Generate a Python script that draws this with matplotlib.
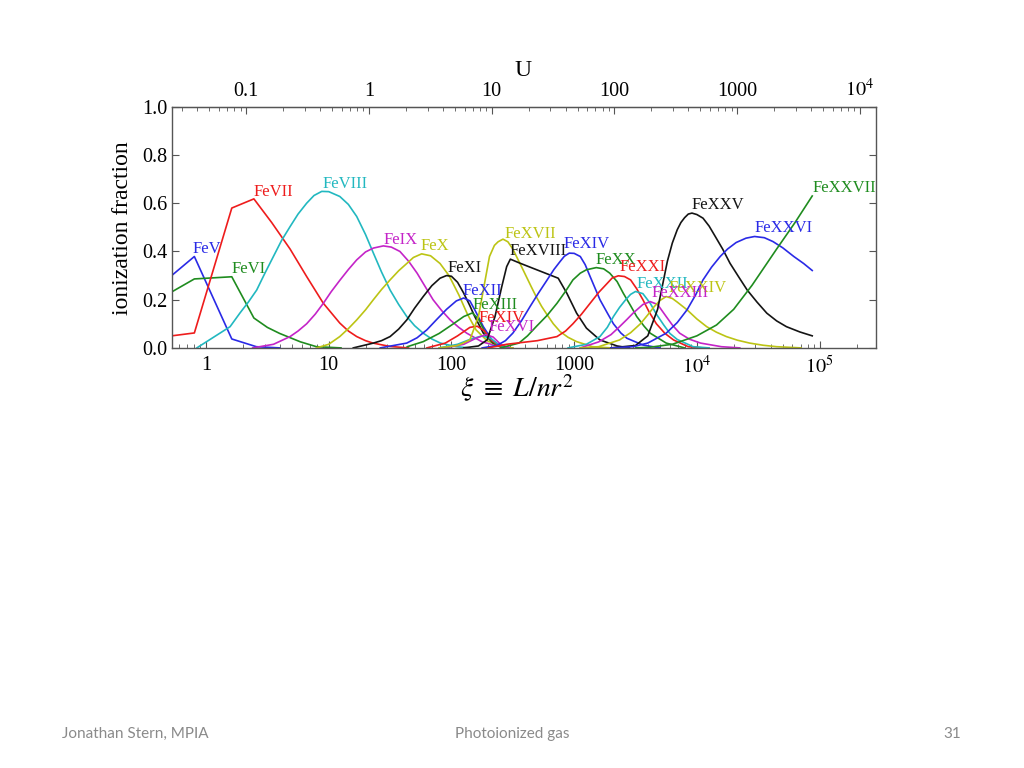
import numpy as np
import matplotlib.pyplot as plt
from matplotlib.ticker import FixedLocator, FuncFormatter, LogLocator, NullFormatter

plt.rcParams['font.family'] = ['Liberation Serif', 'DejaVu Serif']
plt.rcParams['mathtext.fontset'] = 'stix'

# ion curves: log10(xi) and ionization fraction
fe5_x = [-0.28, -0.095, 0.21, 0.41, 0.6]
fe5_y = [0.30, 0.379, 0.037, 0.005, 0.0]
fe6_x = [-0.28, -0.095, 0.21, 0.39, 0.5, 0.6, 0.77, 0.9, 1.1]
fe6_y = [0.232, 0.286, 0.295, 0.124, 0.085, 0.06, 0.025, 0.005, 0.0]
fe7_x = [-0.28, -0.095, 0.21, 0.39, 0.535, 0.685, 0.82, 0.956, 1.09, 1.16, 1.228, 1.3, 1.36,
         1.5, 1.65]
fe7_y = [0.05, 0.062, 0.58, 0.618, 0.52, 0.41, 0.296, 0.185, 0.103, 0.07, 0.047, 0.03, 0.02,
         0.006, 0.0]
fe8_x = [-0.075, 0.196, 0.277, 0.345, 0.413, 0.48, 0.549, 0.615, 0.685, 0.75, 0.82, 0.88, 0.943,
         1.0, 1.09, 1.16, 1.228, 1.3, 1.364, 1.43, 1.5, 1.57, 1.636, 1.7, 1.77, 1.84, 1.91, 2.04, 2.15]
fe8_y = [0.0, 0.088, 0.145, 0.19, 0.24, 0.31, 0.379, 0.445, 0.503, 0.555, 0.60, 0.632, 0.649,
         0.648, 0.628, 0.595, 0.545, 0.47, 0.393, 0.315, 0.24, 0.18, 0.13, 0.092, 0.061, 0.037,
         0.02, 0.005, 0.0]
fe9_x = [0.38, 0.55, 0.685, 0.75, 0.82, 0.89, 0.956, 1.02, 1.09, 1.16, 1.228, 1.30, 1.364, 1.445,
         1.51, 1.58, 1.65, 1.72, 1.785, 1.85, 1.92, 1.99, 2.06, 2.125, 2.25, 2.4, 2.5]
fe9_y = [0.0, 0.015, 0.047, 0.07, 0.10, 0.14, 0.185, 0.233, 0.28, 0.325, 0.365, 0.398, 0.414,
         0.423, 0.418, 0.40, 0.36, 0.31, 0.255, 0.20, 0.155, 0.116, 0.085, 0.061, 0.025, 0.005, 0.0]
fe10_x = [0.9, 1.0, 1.09, 1.16, 1.228, 1.3, 1.364, 1.43, 1.5, 1.57, 1.636, 1.69, 1.757, 1.83,
          1.907, 1.98, 2.06, 2.13, 2.2, 2.29, 2.4, 2.5]
fe10_y = [0.0, 0.015, 0.047, 0.08, 0.116, 0.158, 0.2, 0.242, 0.282, 0.32, 0.35, 0.375, 0.39,
          0.382, 0.35, 0.30, 0.22, 0.14, 0.075, 0.03, 0.005, 0.0]
fe11_x = [1.2, 1.364, 1.43, 1.5, 1.57, 1.636, 1.70, 1.77, 1.84, 1.907, 1.96, 2.0, 2.05, 2.1,
          2.15, 2.19, 2.26, 2.34, 2.45]
fe11_y = [0.0, 0.02, 0.03, 0.047, 0.078, 0.116, 0.165, 0.213, 0.258, 0.289, 0.30, 0.297, 0.272,
          0.227, 0.175, 0.13, 0.061, 0.02, 0.0]
fe12_x = [1.42, 1.636, 1.72, 1.8, 1.88, 1.96, 2.04, 2.1, 2.15, 2.19, 2.26, 2.33, 2.42]
fe12_y = [0.0, 0.02, 0.042, 0.075, 0.118, 0.16, 0.195, 0.207, 0.195, 0.158, 0.088, 0.033, 0.0]
fe13_x = [1.64, 1.77, 1.9, 2.016, 2.1, 2.17, 2.22, 2.29, 2.37, 2.45]
fe13_y = [0.005, 0.026, 0.06, 0.10, 0.13, 0.145, 0.12, 0.047, 0.01, 0.0]
fe14_x = [1.8, 1.95, 2.05, 2.15, 2.21, 2.27, 2.33, 2.4]
fe14_y = [0.0, 0.02, 0.05, 0.085, 0.09, 0.07, 0.03, 0.005]
fe15_x = [1.9, 2.05, 2.15, 2.25, 2.32, 2.38, 2.45]
fe15_y = [0.0, 0.015, 0.035, 0.05, 0.04, 0.015, 0.0]
fe16_x = [1.95, 2.1, 2.2, 2.28, 2.34, 2.4, 2.47]
fe16_y = [0.0, 0.015, 0.04, 0.055, 0.045, 0.015, 0.0]
fe17_x = [1.9, 2.05, 2.15, 2.22, 2.27, 2.31, 2.35, 2.38, 2.42, 2.46, 2.5, 2.53, 2.57, 2.61, 2.65,
          2.69, 2.735, 2.78, 2.83, 2.885, 2.95, 3.02, 3.15, 3.3]
fe17_y = [0.0, 0.01, 0.033, 0.13, 0.268, 0.379, 0.425, 0.44, 0.451, 0.44, 0.41, 0.379, 0.338,
          0.296, 0.254, 0.213, 0.172, 0.137, 0.1, 0.068, 0.044, 0.026, 0.005, 0.0]
fe18_x = [2.1, 2.22, 2.29, 2.355, 2.41, 2.45, 2.48, 2.56, 2.695, 2.87, 2.94, 3.02, 3.10, 3.21,
          3.35, 3.45]
fe18_y = [0.0, 0.008, 0.033, 0.13, 0.254, 0.337, 0.368, 0.351, 0.324, 0.289, 0.227, 0.144,
          0.082, 0.033, 0.008, 0.0]
fe19_x = [2.25, 2.37, 2.44, 2.5, 2.57, 2.64, 2.71, 2.78, 2.835, 2.885, 2.92, 2.96, 3.0, 3.05,
          3.09, 3.13, 3.17, 3.21, 3.27, 3.32, 3.38, 3.43, 3.56, 3.7]
fe19_y = [0.0, 0.01, 0.03, 0.061, 0.112, 0.171, 0.228, 0.282, 0.325, 0.358, 0.38, 0.393, 0.392,
          0.379, 0.345, 0.296, 0.248, 0.2, 0.145, 0.10, 0.062, 0.04, 0.012, 0.0]
fe20_x = [2.4, 2.55, 2.62, 2.69, 2.78, 2.86, 2.93, 2.99, 3.05, 3.1, 3.18, 3.24, 3.29, 3.35,
          3.40, 3.46, 3.51, 3.57, 3.62, 3.75, 3.9]
fe20_y = [0.0, 0.02, 0.05, 0.088, 0.135, 0.185, 0.235, 0.282, 0.31, 0.324, 0.333, 0.328, 0.31,
          0.275, 0.227, 0.175, 0.13, 0.09, 0.061, 0.02, 0.0]
fe21_x = [2.3, 2.45, 2.7, 2.86, 2.93, 2.99, 3.06, 3.13, 3.2, 3.27, 3.31, 3.36, 3.41, 3.46,
          3.51, 3.56, 3.61, 3.67, 3.74, 3.81, 3.93, 4.05]
fe21_y = [0.0, 0.015, 0.03, 0.047, 0.07, 0.10, 0.14, 0.185, 0.23, 0.268, 0.29, 0.299, 0.296,
          0.282, 0.245, 0.2, 0.15, 0.10, 0.06, 0.033, 0.005, 0.0]
fe22_x = [2.95, 3.1, 3.21, 3.27, 3.32, 3.37, 3.42, 3.46, 3.5, 3.56, 3.62, 3.67, 3.73, 3.78,
          3.84, 3.97, 4.1]
fe22_y = [0.0, 0.015, 0.047, 0.085, 0.13, 0.168, 0.2, 0.222, 0.234, 0.225, 0.185, 0.14, 0.095,
          0.06, 0.035, 0.005, 0.0]
fe23_x = [3.05, 3.2, 3.3, 3.37, 3.43, 3.48, 3.56, 3.62, 3.68, 3.75, 3.8, 3.86, 3.94, 4.03, 4.2, 4.35]
fe23_y = [0.0, 0.025, 0.055, 0.088, 0.118, 0.144, 0.18, 0.192, 0.18, 0.13, 0.095, 0.061, 0.036,
          0.02, 0.005, 0.0]
fe24_x = [3.05, 3.2, 3.37, 3.46, 3.54, 3.6, 3.65, 3.7, 3.75, 3.8, 3.84, 3.92, 4.0, 4.08, 4.16,
          4.24, 4.33, 4.43, 4.54, 4.65, 4.85]
fe24_y = [0.0, 0.005, 0.033, 0.063, 0.10, 0.137, 0.17, 0.197, 0.213, 0.205, 0.19, 0.158, 0.12,
          0.088, 0.065, 0.047, 0.032, 0.02, 0.011, 0.005, 0.0]
fe25_x = [3.3, 3.5, 3.6, 3.68, 3.72, 3.76, 3.8, 3.84, 3.87, 3.9, 3.93, 3.96, 4.0, 4.05, 4.10,
          4.15, 4.21, 4.27, 4.34, 4.41, 4.49, 4.57, 4.65, 4.73, 4.84, 4.94]
fe25_y = [0.0, 0.01, 0.05, 0.16, 0.26, 0.36, 0.435, 0.49, 0.52, 0.54, 0.555, 0.559, 0.553,
          0.538, 0.505, 0.462, 0.41, 0.351, 0.295, 0.24, 0.19, 0.144, 0.112, 0.088, 0.066, 0.05]
fe26_x = [3.3, 3.48, 3.6, 3.75, 3.84, 3.92, 3.99, 4.05, 4.12, 4.19, 4.25, 4.32, 4.40, 4.47,
          4.55, 4.62, 4.70, 4.79, 4.87, 4.94]
fe26_y = [0.0, 0.005, 0.02, 0.061, 0.105, 0.158, 0.22, 0.282, 0.335, 0.379, 0.41, 0.437, 0.455,
          0.462, 0.457, 0.441, 0.415, 0.379, 0.35, 0.321]
fe27_x = [3.5, 3.62, 3.8, 4.0, 4.16, 4.3, 4.45, 4.65, 4.8, 4.94]
fe27_y = [0.0, 0.003, 0.015, 0.05, 0.095, 0.16, 0.26, 0.41, 0.52, 0.63]

curves = [(fe5_x, fe5_y), (fe6_x, fe6_y), (fe7_x, fe7_y), (fe8_x, fe8_y), (fe9_x, fe9_y),
          (fe10_x, fe10_y), (fe11_x, fe11_y), (fe12_x, fe12_y), (fe13_x, fe13_y),
          (fe14_x, fe14_y), (fe15_x, fe15_y), (fe16_x, fe16_y), (fe17_x, fe17_y),
          (fe18_x, fe18_y), (fe19_x, fe19_y), (fe20_x, fe20_y), (fe21_x, fe21_y),
          (fe22_x, fe22_y), (fe23_x, fe23_y), (fe24_x, fe24_y), (fe25_x, fe25_y),
          (fe26_x, fe26_y), (fe27_x, fe27_y)]

# colour cycle of the original plot
cycle = ['#2a2ae6', '#1f8c1f', '#ee1c1c', '#22b8c0', '#c424c8', '#bcc414', '#141414']

# ion labels: text, log10(xi), fraction (lower-left corner of the text), colour index
labels = [('FeV', -0.11, 0.378, 0), ('FeVI', 0.21, 0.295, 1), ('FeVII', 0.39, 0.614, 2),
          ('FeVIII', 0.953, 0.647, 3), ('FeIX', 1.443, 0.415, 4), ('FeX', 1.744, 0.39, 5),
          ('FeXI', 1.97, 0.299, 6), ('FeXII', 2.09, 0.203, 7), ('FeXIII', 2.17, 0.145, 8),
          ('FeXIV', 2.22, 0.091, 9), ('FeXVI', 2.30, 0.054, 11), ('FeXVII', 2.43, 0.44, 12),
          ('FeXVIII', 2.47, 0.369, 13), ('FeXIV', 2.91, 0.398, 14), ('FeXX', 3.17, 0.332, 15),
          ('FeXXI', 3.37, 0.303, 16), ('FeXXII', 3.51, 0.232, 17), ('FeXXIV', 3.77, 0.216, 19),
          ('FeXXIII', 3.63, 0.195, 18), ('FeXXV', 3.96, 0.56, 20), ('FeXXVI', 4.47, 0.465, 21),
          ('FeXXVII', 4.94, 0.63, 22)]

xi_ticks = [1, 10, 100, 1000, 1e4, 1e5]
u_ticks = [0.1, 1, 10, 100, 1000, 1e4]
y_ticks = [0.0, 0.2, 0.4, 0.6, 0.8, 1.0]
xi_per_u = 21.3


def fmt(v, pos):
    if v >= 1e4:
        return r'$10^{%d}$' % round(np.log10(v))
    if v < 1:
        return '%g' % v
    return '%d' % round(v)


fig = plt.figure(figsize=(10.24, 7.68), dpi=100)
ax = fig.add_axes([0.168, 0.547, 0.6875, 0.314])

for i, (lx, fy) in enumerate(curves):
    ax.plot(10 ** np.array(lx), fy, color=cycle[i % 7], lw=1.2)

for txt, lx, fy, ci in labels:
    ax.text(10 ** lx, fy, txt, color=cycle[ci % 7], fontsize=12, ha='left', va='bottom')

ax.set_xscale('log')
ax.set_xlim(10 ** -0.277, 10 ** 5.46)
ax.set_ylim(0, 1)
ax.xaxis.set_major_locator(FixedLocator(xi_ticks))
ax.xaxis.set_major_formatter(FuncFormatter(fmt))
ax.xaxis.set_minor_locator(LogLocator(base=10, subs=range(2, 10), numticks=20))
ax.xaxis.set_minor_formatter(NullFormatter())
ax.set_yticks(y_ticks)
ax.yaxis.set_major_formatter(FuncFormatter(lambda v, p: '%.1f' % v))
ax.tick_params(which='both', direction='in', labelsize=14.5, colors='#555555',
               labelcolor='black', right=True, top=False)
ax.tick_params(which='major', length=5)
ax.tick_params(which='minor', length=3)
ax.tick_params(axis='x', pad=6)
for s in ax.spines.values():
    s.set_color('#555555')
    s.set_linewidth(1.0)

sec = ax.secondary_xaxis('top', functions=(lambda x: x / xi_per_u, lambda u: u * xi_per_u))
sec.set_xscale('log')
sec.xaxis.set_major_locator(FixedLocator(u_ticks))
sec.xaxis.set_major_formatter(FuncFormatter(fmt))
sec.xaxis.set_minor_locator(LogLocator(base=10, subs=range(2, 10), numticks=20))
sec.xaxis.set_minor_formatter(NullFormatter())
sec.tick_params(which='both', direction='in', labelsize=14.5, colors='#555555', labelcolor='black')
sec.tick_params(which='major', length=5, pad=4)
sec.tick_params(which='minor', length=3)
sec.spines['top'].set_color('#555555')

fig.text(523 / 1024, 1 - 70 / 768, 'U', fontsize=17, ha='center', va='center')
fig.text(123 / 1024, 1 - 228 / 768, 'ionization fraction', fontsize=17, rotation=90,
         ha='center', va='center')
fig.text(517 / 1024, 1 - 388 / 768, r'$\xi\ \equiv\ L/nr^2$', fontsize=20, ha='center', va='center')

foot = dict(fontsize=11, color='#8a8a8a', va='center', family=['Lato', 'DejaVu Sans'])
fig.text(62 / 1024, 1 - 734 / 768, 'Jonathan Stern, MPIA', ha='left', **foot)
fig.text(512 / 1024, 1 - 734 / 768, 'Photoionized gas', ha='center', **foot)
fig.text(961 / 1024, 1 - 734 / 768, '31', ha='right', **foot)

fig.savefig('out.png', dpi=100)
